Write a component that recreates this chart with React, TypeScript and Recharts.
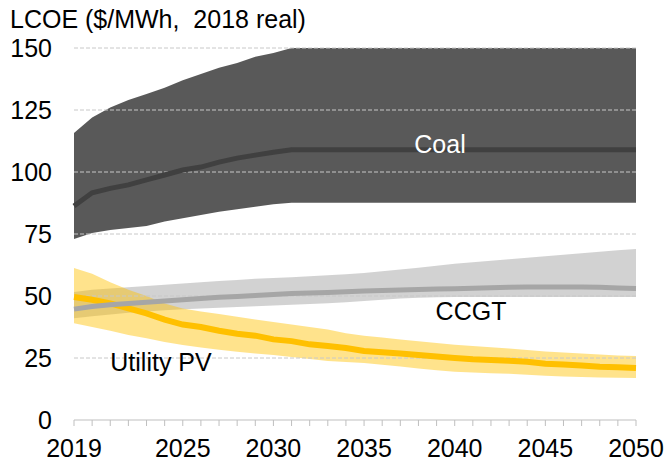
import { ComposedChart, Area, Line, XAxis, YAxis, ReferenceLine } from 'recharts';

const years = [
  2019, 2020, 2021, 2022, 2023, 2024, 2025, 2026, 2027, 2028, 2029, 2030, 2031, 2032, 2033, 2034,
  2035, 2036, 2037, 2038, 2039, 2040, 2041, 2042, 2043, 2044, 2045, 2046, 2047, 2048, 2049, 2050,
];
const labeledYears = [2019, 2025, 2030, 2035, 2040, 2045, 2050];
const yTicks = [0, 25, 50, 75, 100, 125, 150];
const gridLines = [25, 50, 75, 100, 125, 150];

// Coal (band clipped at the top of the axis)
const coalHigh = [
  115.7, 122, 126, 129, 131.5, 134, 137, 139.5, 142, 144, 146.5, 148, 150, 150, 150, 150,
  150, 150, 150, 150, 150, 150, 150, 150, 150, 150, 150, 150, 150, 150, 150, 150,
];
const coalLow = [
  73, 75.4, 76.6, 77.4, 78.2, 80, 81.4, 82.7, 84, 85, 86, 87, 87.6, 87.6, 87.6, 87.6,
  87.6, 87.6, 87.6, 87.6, 87.6, 87.6, 87.6, 87.6, 87.6, 87.6, 87.6, 87.6, 87.6, 87.6, 87.6, 87.6,
];
const coalMid = [
  86.3, 91.6, 93.4, 94.8, 96.8, 98.8, 100.8, 102, 104, 105.6, 106.8, 108, 109, 109, 109, 109,
  109, 109, 109, 109, 109, 109, 109, 109, 109, 109, 109, 109, 109, 109, 109, 109,
];

// CCGT
const ccgtHigh = [
  51.6, 52.5, 53, 53.5, 54, 54.5, 55, 55.5, 56, 56.5, 57, 57.3, 57.6, 58, 58.4, 58.8,
  59.3, 60, 60.7, 61.4, 62.2, 63, 63.6, 64.2, 64.8, 65.4, 66, 66.6, 67.2, 67.8, 68.4, 69,
];
const ccgtLow = [
  41, 41.8, 42.5, 43.2, 43.8, 44.3, 44.7, 45, 45.3, 45.6, 45.9, 46.2, 46.5, 46.8, 47.1, 47.5,
  48, 48.5, 49, 49.3, 49.5, 49.6, 49.6, 49.6, 49.6, 49.6, 49.6, 49.6, 49.6, 49.6, 49.6, 49.6,
];
const ccgtMid = [
  44.7, 45.8, 46.5, 47, 47.5, 48, 48.5, 49, 49.5, 49.8, 50.2, 50.6, 51, 51.2, 51.4, 51.7,
  52, 52.2, 52.4, 52.6, 52.8, 52.9, 53.1, 53.3, 53.5, 53.6, 53.6, 53.6, 53.6, 53.5, 53.2, 53,
];

// Utility PV
const pvHigh = [
  61.3, 59, 55.5, 52.5, 50, 47, 45, 43.8, 42.7, 41.6, 40.5, 39.5, 38.5, 37.5, 36.5, 35,
  34, 33.3, 32.5, 31.8, 31, 30.3, 29.8, 29.3, 28.8, 28.2, 27.6, 27.2, 26.8, 26.4, 26, 25.8,
];
const pvLow = [
  39, 37.5, 36, 34.3, 33, 31.5, 30.2, 29.2, 28.3, 27.5, 26.8, 26.2, 25.4, 24.6, 23.8, 23.4,
  23, 22.3, 21.6, 20.8, 20.1, 19.5, 19.2, 18.9, 18.6, 18.2, 17.8, 17.5, 17.3, 17.1, 17, 16.9,
];
const pvMid = [
  49.6, 48.5, 47, 45, 43, 40.5, 38.5, 37.5, 36, 34.8, 34, 32.5, 31.8, 30.5, 29.8, 29,
  27.8, 27.3, 26.8, 26.2, 25.6, 25, 24.5, 24.2, 23.9, 23.5, 22.7, 22.4, 22, 21.5, 21.3, 21,
];

const data = years.map((year, i) => ({
  year,
  coalBand: [coalLow[i], coalHigh[i]],
  coal: coalMid[i],
  ccgtBand: [ccgtLow[i], ccgtHigh[i]],
  ccgt: ccgtMid[i],
  pvBand: [pvLow[i], pvHigh[i]],
  pv: pvMid[i],
}));

const font = '"Liberation Sans", Arial, sans-serif';
const fs = 25;

export default function App() {
  return (
    <div style={{ position: 'absolute', left: 0, top: 0, width: 666, height: 465, background: '#fff', fontFamily: font }}>
      <ComposedChart
        width={666}
        height={465}
        data={data}
        margin={{ top: 48, right: 30, left: 0, bottom: 0 }}
      >
        <XAxis
          dataKey="year"
          type="number"
          domain={[2019, 2050]}
          ticks={years}
          interval={0}
          height={45}
          tickFormatter={(v) => (labeledYears.includes(v) ? String(v) : '')}
          stroke="#BFBFBF"
          tickSize={6}
          tickMargin={13}
          tick={{ fill: '#000', fontSize: fs, fontFamily: font }}
        />
        <YAxis
          type="number"
          domain={[0, 150]}
          ticks={yTicks}
          allowDataOverflow
          width={74}
          axisLine={false}
          tickLine={false}
          tickSize={0}
          tickMargin={22}
          tick={{ fill: '#000', fontSize: fs, fontFamily: font }}
        />
        {gridLines.map((g) => (
          <ReferenceLine key={g} y={g} stroke="#C8C8C8" strokeDasharray="4 2" />
        ))}
        <Area dataKey="coalBand" type="linear" stroke="none" fill="#000" fillOpacity={0.65} isAnimationActive={false} />
        <Area dataKey="ccgtBand" type="linear" stroke="none" fill="#A6A6A6" fillOpacity={0.5} isAnimationActive={false} />
        <Area dataKey="pvBand" type="linear" stroke="none" fill="#FFC000" fillOpacity={0.45} isAnimationActive={false} />
        <Line dataKey="coal" type="linear" stroke="#404040" strokeWidth={5} dot={false} isAnimationActive={false} />
        <Line dataKey="pv" type="linear" stroke="#FFC000" strokeWidth={6} dot={false} isAnimationActive={false} />
        <Line dataKey="ccgt" type="linear" stroke="#A6A6A6" strokeWidth={5} dot={false} isAnimationActive={false} />
      </ComposedChart>
      <svg width={666} height={465} style={{ position: 'absolute', left: 0, top: 0, pointerEvents: 'none' }}>
        <text x={10} y={28} fontSize={fs} fontFamily={font} fill="#000" style={{ whiteSpace: 'pre' }}>
          {'LCOE ($/MWh,  2018 real)'}
        </text>
        <text x={440} y={153} fontSize={fs} fontFamily={font} fill="#fff" textAnchor="middle">Coal</text>
        <text x={471} y={320} fontSize={fs} fontFamily={font} fill="#000" textAnchor="middle">CCGT</text>
        <text x={161} y={371} fontSize={fs} fontFamily={font} fill="#000" textAnchor="middle">Utility PV</text>
      </svg>
    </div>
  );
}
